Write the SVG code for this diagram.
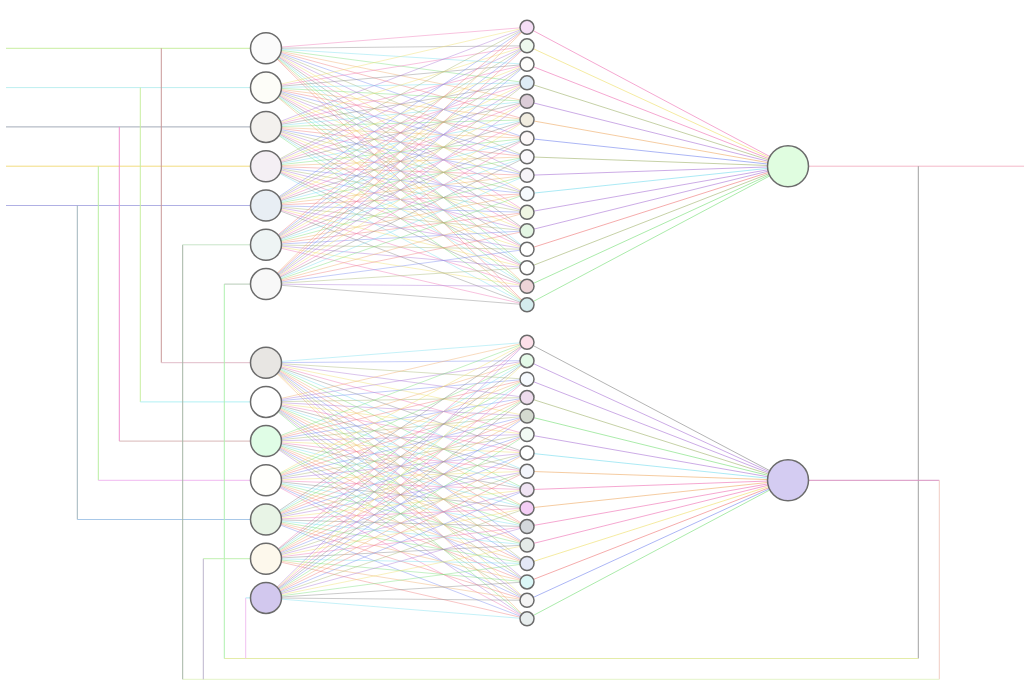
<svg xmlns="http://www.w3.org/2000/svg" width="1024" height="700" viewBox="0 0 1024 700">
<style>
.w{fill:none;stroke-width:1}
.e line{stroke-width:1;stroke-opacity:.45}
.o line{stroke-width:1;stroke-opacity:.65}
.k0{stroke:#f07ab8}.k1{stroke:#7ee07e}.k2{stroke:#7f8fef}.k3{stroke:#efe070}.k4{stroke:#7fdff0}
.k5{stroke:#ef8080}.k6{stroke:#b07fd8}.k7{stroke:#8c8c8c}.k8{stroke:#f0b070}.k9{stroke:#a8b878}
.n{stroke:#6b6b6b;stroke-width:1.5}
</style>
<rect width="1024" height="700" fill="#fff"/>
<g id="connectors">
<g id="wires" class="w">
<path d="M6 48.3H250" stroke="#c8eea0"/>
<path d="M6 87.6H250" stroke="#bdeff0"/>
<path d="M6 126.9H250" stroke="#a4acb8"/>
<path d="M6 166.2H250" stroke="#f2dc80"/>
<path d="M6 205.5H250" stroke="#b0b0e4"/>
<path d="M161.3 48.3V362.7" stroke="#c89898"/><path d="M161.3 362.7H250" stroke="#e0bcc8"/>
<path d="M140.3 87.6V401.9" stroke="#c8eea0"/><path d="M140.3 401.9H250" stroke="#b0f0f4"/>
<path d="M119.3 126.9V441.1" stroke="#f090d0"/><path d="M119.3 441.1H250" stroke="#d8b8b8"/>
<path d="M98.3 166.2V480.3" stroke="#b8eea0"/><path d="M98.3 480.3H250" stroke="#f0b8f0"/>
<path d="M77.3 205.5V519.5" stroke="#a0b4bc"/><path d="M77.3 519.5H250" stroke="#a8c8e8"/>
<path d="M808 166.2H1024" stroke="#f4b8c8"/>
<path d="M918.3 166.2V658.5" stroke="#a0a0a0"/>
<path d="M918.3 658.5H224.3" stroke="#e4eca8"/>
<path d="M224.3 658.5V284.1" stroke="#b0f0b0"/><path d="M224.3 284.1H250" stroke="#b8ccb8"/>
<path d="M245.7 658.5V597.9" stroke="#f0c0f0"/><path d="M245.7 597.9H250" stroke="#b0e8f8"/>
<path d="M808 480.3H939.3" stroke="#d890c0"/>
<path d="M939.3 480.3V679.3" stroke="#f0ccc4"/>
<path d="M939.3 679.3H182.7" stroke="#e4f4c8"/>
<path d="M182.7 679.3V244.8" stroke="#a4b4a4"/><path d="M182.7 244.8H250" stroke="#c8e4c8"/>
<path d="M203.3 679.3V558.7" stroke="#bcb4cc"/><path d="M203.3 558.7H250" stroke="#c0f0b0"/>
</g>
<g id="edges-top" class="e">
<line x1="266" y1="48.3" x2="527" y2="27.3" class="k0"/><line x1="266" y1="48.3" x2="527" y2="45.8" class="k7"/><line x1="266" y1="48.3" x2="527" y2="64.3" class="k4"/><line x1="266" y1="48.3" x2="527" y2="82.8" class="k1"/><line x1="266" y1="48.3" x2="527" y2="101.3" class="k8"/><line x1="266" y1="48.3" x2="527" y2="119.8" class="k5"/><line x1="266" y1="48.3" x2="527" y2="138.3" class="k2"/><line x1="266" y1="48.3" x2="527" y2="156.8" class="k9"/><line x1="266" y1="48.3" x2="527" y2="175.3" class="k6"/><line x1="266" y1="48.3" x2="527" y2="193.8" class="k3"/><line x1="266" y1="48.3" x2="527" y2="212.3" class="k0"/><line x1="266" y1="48.3" x2="527" y2="230.8" class="k7"/><line x1="266" y1="48.3" x2="527" y2="249.3" class="k4"/><line x1="266" y1="48.3" x2="527" y2="267.8" class="k1"/><line x1="266" y1="48.3" x2="527" y2="286.3" class="k8"/><line x1="266" y1="48.3" x2="527" y2="304.8" class="k5"/>
<line x1="266" y1="87.6" x2="527" y2="27.3" class="k3"/><line x1="266" y1="87.6" x2="527" y2="45.8" class="k0"/><line x1="266" y1="87.6" x2="527" y2="64.3" class="k7"/><line x1="266" y1="87.6" x2="527" y2="82.8" class="k4"/><line x1="266" y1="87.6" x2="527" y2="101.3" class="k1"/><line x1="266" y1="87.6" x2="527" y2="119.8" class="k8"/><line x1="266" y1="87.6" x2="527" y2="138.3" class="k5"/><line x1="266" y1="87.6" x2="527" y2="156.8" class="k2"/><line x1="266" y1="87.6" x2="527" y2="175.3" class="k9"/><line x1="266" y1="87.6" x2="527" y2="193.8" class="k6"/><line x1="266" y1="87.6" x2="527" y2="212.3" class="k3"/><line x1="266" y1="87.6" x2="527" y2="230.8" class="k0"/><line x1="266" y1="87.6" x2="527" y2="249.3" class="k7"/><line x1="266" y1="87.6" x2="527" y2="267.8" class="k4"/><line x1="266" y1="87.6" x2="527" y2="286.3" class="k1"/><line x1="266" y1="87.6" x2="527" y2="304.8" class="k8"/>
<line x1="266" y1="126.9" x2="527" y2="27.3" class="k6"/><line x1="266" y1="126.9" x2="527" y2="45.8" class="k3"/><line x1="266" y1="126.9" x2="527" y2="64.3" class="k0"/><line x1="266" y1="126.9" x2="527" y2="82.8" class="k7"/><line x1="266" y1="126.9" x2="527" y2="101.3" class="k4"/><line x1="266" y1="126.9" x2="527" y2="119.8" class="k1"/><line x1="266" y1="126.9" x2="527" y2="138.3" class="k8"/><line x1="266" y1="126.9" x2="527" y2="156.8" class="k5"/><line x1="266" y1="126.9" x2="527" y2="175.3" class="k2"/><line x1="266" y1="126.9" x2="527" y2="193.8" class="k9"/><line x1="266" y1="126.9" x2="527" y2="212.3" class="k6"/><line x1="266" y1="126.9" x2="527" y2="230.8" class="k3"/><line x1="266" y1="126.9" x2="527" y2="249.3" class="k0"/><line x1="266" y1="126.9" x2="527" y2="267.8" class="k7"/><line x1="266" y1="126.9" x2="527" y2="286.3" class="k4"/><line x1="266" y1="126.9" x2="527" y2="304.8" class="k1"/>
<line x1="266" y1="166.2" x2="527" y2="27.3" class="k9"/><line x1="266" y1="166.2" x2="527" y2="45.8" class="k6"/><line x1="266" y1="166.2" x2="527" y2="64.3" class="k3"/><line x1="266" y1="166.2" x2="527" y2="82.8" class="k0"/><line x1="266" y1="166.2" x2="527" y2="101.3" class="k7"/><line x1="266" y1="166.2" x2="527" y2="119.8" class="k4"/><line x1="266" y1="166.2" x2="527" y2="138.3" class="k1"/><line x1="266" y1="166.2" x2="527" y2="156.8" class="k8"/><line x1="266" y1="166.2" x2="527" y2="175.3" class="k5"/><line x1="266" y1="166.2" x2="527" y2="193.8" class="k2"/><line x1="266" y1="166.2" x2="527" y2="212.3" class="k9"/><line x1="266" y1="166.2" x2="527" y2="230.8" class="k6"/><line x1="266" y1="166.2" x2="527" y2="249.3" class="k3"/><line x1="266" y1="166.2" x2="527" y2="267.8" class="k0"/><line x1="266" y1="166.2" x2="527" y2="286.3" class="k7"/><line x1="266" y1="166.2" x2="527" y2="304.8" class="k4"/>
<line x1="266" y1="205.5" x2="527" y2="27.3" class="k2"/><line x1="266" y1="205.5" x2="527" y2="45.8" class="k9"/><line x1="266" y1="205.5" x2="527" y2="64.3" class="k6"/><line x1="266" y1="205.5" x2="527" y2="82.8" class="k3"/><line x1="266" y1="205.5" x2="527" y2="101.3" class="k0"/><line x1="266" y1="205.5" x2="527" y2="119.8" class="k7"/><line x1="266" y1="205.5" x2="527" y2="138.3" class="k4"/><line x1="266" y1="205.5" x2="527" y2="156.8" class="k1"/><line x1="266" y1="205.5" x2="527" y2="175.3" class="k8"/><line x1="266" y1="205.5" x2="527" y2="193.8" class="k5"/><line x1="266" y1="205.5" x2="527" y2="212.3" class="k2"/><line x1="266" y1="205.5" x2="527" y2="230.8" class="k9"/><line x1="266" y1="205.5" x2="527" y2="249.3" class="k6"/><line x1="266" y1="205.5" x2="527" y2="267.8" class="k3"/><line x1="266" y1="205.5" x2="527" y2="286.3" class="k0"/><line x1="266" y1="205.5" x2="527" y2="304.8" class="k7"/>
<line x1="266" y1="244.8" x2="527" y2="27.3" class="k5"/><line x1="266" y1="244.8" x2="527" y2="45.8" class="k2"/><line x1="266" y1="244.8" x2="527" y2="64.3" class="k9"/><line x1="266" y1="244.8" x2="527" y2="82.8" class="k6"/><line x1="266" y1="244.8" x2="527" y2="101.3" class="k3"/><line x1="266" y1="244.8" x2="527" y2="119.8" class="k0"/><line x1="266" y1="244.8" x2="527" y2="138.3" class="k7"/><line x1="266" y1="244.8" x2="527" y2="156.8" class="k4"/><line x1="266" y1="244.8" x2="527" y2="175.3" class="k1"/><line x1="266" y1="244.8" x2="527" y2="193.8" class="k8"/><line x1="266" y1="244.8" x2="527" y2="212.3" class="k5"/><line x1="266" y1="244.8" x2="527" y2="230.8" class="k2"/><line x1="266" y1="244.8" x2="527" y2="249.3" class="k9"/><line x1="266" y1="244.8" x2="527" y2="267.8" class="k6"/><line x1="266" y1="244.8" x2="527" y2="286.3" class="k3"/><line x1="266" y1="244.8" x2="527" y2="304.8" class="k0"/>
<line x1="266" y1="284.1" x2="527" y2="27.3" class="k8"/><line x1="266" y1="284.1" x2="527" y2="45.8" class="k5"/><line x1="266" y1="284.1" x2="527" y2="64.3" class="k2"/><line x1="266" y1="284.1" x2="527" y2="82.8" class="k9"/><line x1="266" y1="284.1" x2="527" y2="101.3" class="k6"/><line x1="266" y1="284.1" x2="527" y2="119.8" class="k3"/><line x1="266" y1="284.1" x2="527" y2="138.3" class="k0"/><line x1="266" y1="284.1" x2="527" y2="156.8" class="k7"/><line x1="266" y1="284.1" x2="527" y2="175.3" class="k4"/><line x1="266" y1="284.1" x2="527" y2="193.8" class="k1"/><line x1="266" y1="284.1" x2="527" y2="212.3" class="k8"/><line x1="266" y1="284.1" x2="527" y2="230.8" class="k5"/><line x1="266" y1="284.1" x2="527" y2="249.3" class="k2"/><line x1="266" y1="284.1" x2="527" y2="267.8" class="k9"/><line x1="266" y1="284.1" x2="527" y2="286.3" class="k6"/><line x1="266" y1="284.1" x2="527" y2="304.8" class="k7"/>
</g>
<g id="edges-bottom" class="e">
<line x1="266" y1="362.7" x2="527" y2="342.3" class="k4"/><line x1="266" y1="362.7" x2="527" y2="360.7" class="k2"/><line x1="266" y1="362.7" x2="527" y2="379.2" class="k9"/><line x1="266" y1="362.7" x2="527" y2="397.6" class="k6"/><line x1="266" y1="362.7" x2="527" y2="416" class="k3"/><line x1="266" y1="362.7" x2="527" y2="434.5" class="k0"/><line x1="266" y1="362.7" x2="527" y2="452.9" class="k7"/><line x1="266" y1="362.7" x2="527" y2="471.3" class="k4"/><line x1="266" y1="362.7" x2="527" y2="489.7" class="k1"/><line x1="266" y1="362.7" x2="527" y2="508.2" class="k8"/><line x1="266" y1="362.7" x2="527" y2="526.6" class="k5"/><line x1="266" y1="362.7" x2="527" y2="545" class="k2"/><line x1="266" y1="362.7" x2="527" y2="563.5" class="k9"/><line x1="266" y1="362.7" x2="527" y2="581.9" class="k6"/><line x1="266" y1="362.7" x2="527" y2="600.3" class="k3"/><line x1="266" y1="362.7" x2="527" y2="618.8" class="k8"/>
<line x1="266" y1="401.9" x2="527" y2="342.3" class="k8"/><line x1="266" y1="401.9" x2="527" y2="360.7" class="k6"/><line x1="266" y1="401.9" x2="527" y2="379.2" class="k2"/><line x1="266" y1="401.9" x2="527" y2="397.6" class="k9"/><line x1="266" y1="401.9" x2="527" y2="416" class="k6"/><line x1="266" y1="401.9" x2="527" y2="434.5" class="k3"/><line x1="266" y1="401.9" x2="527" y2="452.9" class="k0"/><line x1="266" y1="401.9" x2="527" y2="471.3" class="k7"/><line x1="266" y1="401.9" x2="527" y2="489.7" class="k4"/><line x1="266" y1="401.9" x2="527" y2="508.2" class="k1"/><line x1="266" y1="401.9" x2="527" y2="526.6" class="k8"/><line x1="266" y1="401.9" x2="527" y2="545" class="k5"/><line x1="266" y1="401.9" x2="527" y2="563.5" class="k2"/><line x1="266" y1="401.9" x2="527" y2="581.9" class="k9"/><line x1="266" y1="401.9" x2="527" y2="600.3" class="k6"/><line x1="266" y1="401.9" x2="527" y2="618.8" class="k1"/>
<line x1="266" y1="441.1" x2="527" y2="342.3" class="k1"/><line x1="266" y1="441.1" x2="527" y2="360.7" class="k8"/><line x1="266" y1="441.1" x2="527" y2="379.2" class="k5"/><line x1="266" y1="441.1" x2="527" y2="397.6" class="k2"/><line x1="266" y1="441.1" x2="527" y2="416" class="k9"/><line x1="266" y1="441.1" x2="527" y2="434.5" class="k6"/><line x1="266" y1="441.1" x2="527" y2="452.9" class="k3"/><line x1="266" y1="441.1" x2="527" y2="471.3" class="k0"/><line x1="266" y1="441.1" x2="527" y2="489.7" class="k7"/><line x1="266" y1="441.1" x2="527" y2="508.2" class="k4"/><line x1="266" y1="441.1" x2="527" y2="526.6" class="k1"/><line x1="266" y1="441.1" x2="527" y2="545" class="k8"/><line x1="266" y1="441.1" x2="527" y2="563.5" class="k5"/><line x1="266" y1="441.1" x2="527" y2="581.9" class="k2"/><line x1="266" y1="441.1" x2="527" y2="600.3" class="k9"/><line x1="266" y1="441.1" x2="527" y2="618.8" class="k6"/>
<line x1="266" y1="480.3" x2="527" y2="342.3" class="k3"/><line x1="266" y1="480.3" x2="527" y2="360.7" class="k1"/><line x1="266" y1="480.3" x2="527" y2="379.2" class="k8"/><line x1="266" y1="480.3" x2="527" y2="397.6" class="k5"/><line x1="266" y1="480.3" x2="527" y2="416" class="k2"/><line x1="266" y1="480.3" x2="527" y2="434.5" class="k9"/><line x1="266" y1="480.3" x2="527" y2="452.9" class="k6"/><line x1="266" y1="480.3" x2="527" y2="471.3" class="k3"/><line x1="266" y1="480.3" x2="527" y2="489.7" class="k0"/><line x1="266" y1="480.3" x2="527" y2="508.2" class="k7"/><line x1="266" y1="480.3" x2="527" y2="526.6" class="k4"/><line x1="266" y1="480.3" x2="527" y2="545" class="k1"/><line x1="266" y1="480.3" x2="527" y2="563.5" class="k8"/><line x1="266" y1="480.3" x2="527" y2="581.9" class="k5"/><line x1="266" y1="480.3" x2="527" y2="600.3" class="k2"/><line x1="266" y1="480.3" x2="527" y2="618.8" class="k0"/>
<line x1="266" y1="519.5" x2="527" y2="342.3" class="k7"/><line x1="266" y1="519.5" x2="527" y2="360.7" class="k4"/><line x1="266" y1="519.5" x2="527" y2="379.2" class="k1"/><line x1="266" y1="519.5" x2="527" y2="397.6" class="k8"/><line x1="266" y1="519.5" x2="527" y2="416" class="k5"/><line x1="266" y1="519.5" x2="527" y2="434.5" class="k2"/><line x1="266" y1="519.5" x2="527" y2="452.9" class="k9"/><line x1="266" y1="519.5" x2="527" y2="471.3" class="k6"/><line x1="266" y1="519.5" x2="527" y2="489.7" class="k3"/><line x1="266" y1="519.5" x2="527" y2="508.2" class="k0"/><line x1="266" y1="519.5" x2="527" y2="526.6" class="k7"/><line x1="266" y1="519.5" x2="527" y2="545" class="k4"/><line x1="266" y1="519.5" x2="527" y2="563.5" class="k1"/><line x1="266" y1="519.5" x2="527" y2="581.9" class="k8"/><line x1="266" y1="519.5" x2="527" y2="600.3" class="k5"/><line x1="266" y1="519.5" x2="527" y2="618.8" class="k2"/>
<line x1="266" y1="558.7" x2="527" y2="342.3" class="k0"/><line x1="266" y1="558.7" x2="527" y2="360.7" class="k7"/><line x1="266" y1="558.7" x2="527" y2="379.2" class="k4"/><line x1="266" y1="558.7" x2="527" y2="397.6" class="k1"/><line x1="266" y1="558.7" x2="527" y2="416" class="k8"/><line x1="266" y1="558.7" x2="527" y2="434.5" class="k5"/><line x1="266" y1="558.7" x2="527" y2="452.9" class="k2"/><line x1="266" y1="558.7" x2="527" y2="471.3" class="k9"/><line x1="266" y1="558.7" x2="527" y2="489.7" class="k6"/><line x1="266" y1="558.7" x2="527" y2="508.2" class="k3"/><line x1="266" y1="558.7" x2="527" y2="526.6" class="k0"/><line x1="266" y1="558.7" x2="527" y2="545" class="k7"/><line x1="266" y1="558.7" x2="527" y2="563.5" class="k4"/><line x1="266" y1="558.7" x2="527" y2="581.9" class="k1"/><line x1="266" y1="558.7" x2="527" y2="600.3" class="k8"/><line x1="266" y1="558.7" x2="527" y2="618.8" class="k5"/>
<line x1="266" y1="597.9" x2="527" y2="342.3" class="k6"/><line x1="266" y1="597.9" x2="527" y2="360.7" class="k3"/><line x1="266" y1="597.9" x2="527" y2="379.2" class="k0"/><line x1="266" y1="597.9" x2="527" y2="397.6" class="k7"/><line x1="266" y1="597.9" x2="527" y2="416" class="k2"/><line x1="266" y1="597.9" x2="527" y2="434.5" class="k1"/><line x1="266" y1="597.9" x2="527" y2="452.9" class="k8"/><line x1="266" y1="597.9" x2="527" y2="471.3" class="k5"/><line x1="266" y1="597.9" x2="527" y2="489.7" class="k2"/><line x1="266" y1="597.9" x2="527" y2="508.2" class="k9"/><line x1="266" y1="597.9" x2="527" y2="526.6" class="k6"/><line x1="266" y1="597.9" x2="527" y2="545" class="k3"/><line x1="266" y1="597.9" x2="527" y2="563.5" class="k1"/><line x1="266" y1="597.9" x2="527" y2="581.9" class="k7"/><line x1="266" y1="597.9" x2="527" y2="600.3" class="k7"/><line x1="266" y1="597.9" x2="527" y2="618.8" class="k4"/>
</g>
<g id="edges-out" class="o">
<line x1="527" y1="27.3" x2="788" y2="166.2" class="k0"/><line x1="527" y1="45.8" x2="788" y2="166.2" class="k3"/><line x1="527" y1="64.3" x2="788" y2="166.2" class="k0"/><line x1="527" y1="82.8" x2="788" y2="166.2" class="k9"/><line x1="527" y1="101.3" x2="788" y2="166.2" class="k6"/><line x1="527" y1="119.8" x2="788" y2="166.2" class="k8"/><line x1="527" y1="138.3" x2="788" y2="166.2" class="k2"/><line x1="527" y1="156.8" x2="788" y2="166.2" class="k9"/><line x1="527" y1="175.3" x2="788" y2="166.2" class="k6"/><line x1="527" y1="193.8" x2="788" y2="166.2" class="k4"/><line x1="527" y1="212.3" x2="788" y2="166.2" class="k6"/><line x1="527" y1="230.8" x2="788" y2="166.2" class="k6"/><line x1="527" y1="249.3" x2="788" y2="166.2" class="k5"/><line x1="527" y1="267.8" x2="788" y2="166.2" class="k9"/><line x1="527" y1="286.3" x2="788" y2="166.2" class="k1"/><line x1="527" y1="304.8" x2="788" y2="166.2" class="k1"/>
<line x1="527" y1="342.3" x2="788" y2="480.3" class="k7"/><line x1="527" y1="360.7" x2="788" y2="480.3" class="k6"/><line x1="527" y1="379.2" x2="788" y2="480.3" class="k6"/><line x1="527" y1="397.6" x2="788" y2="480.3" class="k9"/><line x1="527" y1="416" x2="788" y2="480.3" class="k1"/><line x1="527" y1="434.5" x2="788" y2="480.3" class="k6"/><line x1="527" y1="452.9" x2="788" y2="480.3" class="k4"/><line x1="527" y1="471.3" x2="788" y2="480.3" class="k8"/><line x1="527" y1="489.7" x2="788" y2="480.3" class="k0"/><line x1="527" y1="508.2" x2="788" y2="480.3" class="k8"/><line x1="527" y1="526.6" x2="788" y2="480.3" class="k0"/><line x1="527" y1="545" x2="788" y2="480.3" class="k0"/><line x1="527" y1="563.5" x2="788" y2="480.3" class="k3"/><line x1="527" y1="581.9" x2="788" y2="480.3" class="k5"/><line x1="527" y1="600.3" x2="788" y2="480.3" class="k2"/><line x1="527" y1="618.8" x2="788" y2="480.3" class="k1"/>
</g>
</g>
<g id="input-top">
<circle id="i1" class="n" cx="266" cy="48.3" r="15.5" fill="#fbfbfb"/>
<circle id="i2" class="n" cx="266" cy="87.6" r="15.5" fill="#fdfdf8"/>
<circle id="i3" class="n" cx="266" cy="126.9" r="15.5" fill="#f3f1ee"/>
<circle id="i4" class="n" cx="266" cy="166.2" r="15.5" fill="#f4eff4"/>
<circle id="i5" class="n" cx="266" cy="205.5" r="15.5" fill="#e8eef4"/>
<circle id="i6" class="n" cx="266" cy="244.8" r="15.5" fill="#eef4f4"/>
<circle id="i7" class="n" cx="266" cy="284.1" r="15.5" fill="#f8f8f8"/>
</g>
<g id="input-bottom">
<circle id="j1" class="n" cx="266" cy="362.7" r="15.5" fill="#e8e6e3"/>
<circle id="j2" class="n" cx="266" cy="401.9" r="15.5" fill="#ffffff"/>
<circle id="j3" class="n" cx="266" cy="441.1" r="15.5" fill="#e0fde6"/>
<circle id="j4" class="n" cx="266" cy="480.3" r="15.5" fill="#fffffc"/>
<circle id="j5" class="n" cx="266" cy="519.5" r="15.5" fill="#e8f4e6"/>
<circle id="j6" class="n" cx="266" cy="558.7" r="15.5" fill="#fdf8ec"/>
<circle id="j7" class="n" cx="266" cy="597.9" r="15.5" fill="#d2c8ee"/>
</g>
<g id="hidden-top">
<circle id="h1" class="n" cx="527" cy="27.3" r="7" fill="#f5def6"/>
<circle id="h2" class="n" cx="527" cy="45.8" r="7" fill="#eef9ee"/>
<circle id="h3" class="n" cx="527" cy="64.3" r="7" fill="#fdfdfb"/>
<circle id="h4" class="n" cx="527" cy="82.8" r="7" fill="#dfecf6"/>
<circle id="h5" class="n" cx="527" cy="101.3" r="7" fill="#dccdd8"/>
<circle id="h6" class="n" cx="527" cy="119.8" r="7" fill="#f1ede0"/>
<circle id="h7" class="n" cx="527" cy="138.3" r="7" fill="#fcf8f8"/>
<circle id="h8" class="n" cx="527" cy="156.8" r="7" fill="#faf8fc"/>
<circle id="h9" class="n" cx="527" cy="175.3" r="7" fill="#f6f4f8"/>
<circle id="h10" class="n" cx="527" cy="193.8" r="7" fill="#f6fafd"/>
<circle id="h11" class="n" cx="527" cy="212.3" r="7" fill="#f0f6e4"/>
<circle id="h12" class="n" cx="527" cy="230.8" r="7" fill="#e4f6e4"/>
<circle id="h13" class="n" cx="527" cy="249.3" r="7" fill="#ffffff"/>
<circle id="h14" class="n" cx="527" cy="267.8" r="7" fill="#ffffff"/>
<circle id="h15" class="n" cx="527" cy="286.3" r="7" fill="#edd4d8"/>
<circle id="h16" class="n" cx="527" cy="304.8" r="7" fill="#d4ecee"/>
</g>
<g id="hidden-bottom">
<circle id="g1" class="n" cx="527" cy="342.3" r="7" fill="#fde0ea"/>
<circle id="g2" class="n" cx="527" cy="360.7" r="7" fill="#e4fae8"/>
<circle id="g3" class="n" cx="527" cy="379.2" r="7" fill="#f6fafe"/>
<circle id="g4" class="n" cx="527" cy="397.6" r="7" fill="#eedcee"/>
<circle id="g5" class="n" cx="527" cy="416" r="7" fill="#d4dad0"/>
<circle id="g6" class="n" cx="527" cy="434.5" r="7" fill="#f2fbf4"/>
<circle id="g7" class="n" cx="527" cy="452.9" r="7" fill="#ffffff"/>
<circle id="g8" class="n" cx="527" cy="471.3" r="7" fill="#f4f6fc"/>
<circle id="g9" class="n" cx="527" cy="489.7" r="7" fill="#f0e4f4"/>
<circle id="g10" class="n" cx="527" cy="508.2" r="7" fill="#f4cef6"/>
<circle id="g11" class="n" cx="527" cy="526.6" r="7" fill="#d4d8dc"/>
<circle id="g12" class="n" cx="527" cy="545" r="7" fill="#e4eae8"/>
<circle id="g13" class="n" cx="527" cy="563.5" r="7" fill="#e4e8f6"/>
<circle id="g14" class="n" cx="527" cy="581.9" r="7" fill="#dcf8f8"/>
<circle id="g15" class="n" cx="527" cy="600.3" r="7" fill="#f4f4f4"/>
<circle id="g16" class="n" cx="527" cy="618.8" r="7" fill="#e8eeee"/>
</g>
<g id="output-top">
<circle id="o1" class="n" cx="788" cy="166.2" r="20.5" fill="#e0fde0"/>
</g>
<g id="output-bottom">
<circle id="o2" class="n" cx="788" cy="480.3" r="20.5" fill="#d4ccf2"/>
</g>
</svg>
